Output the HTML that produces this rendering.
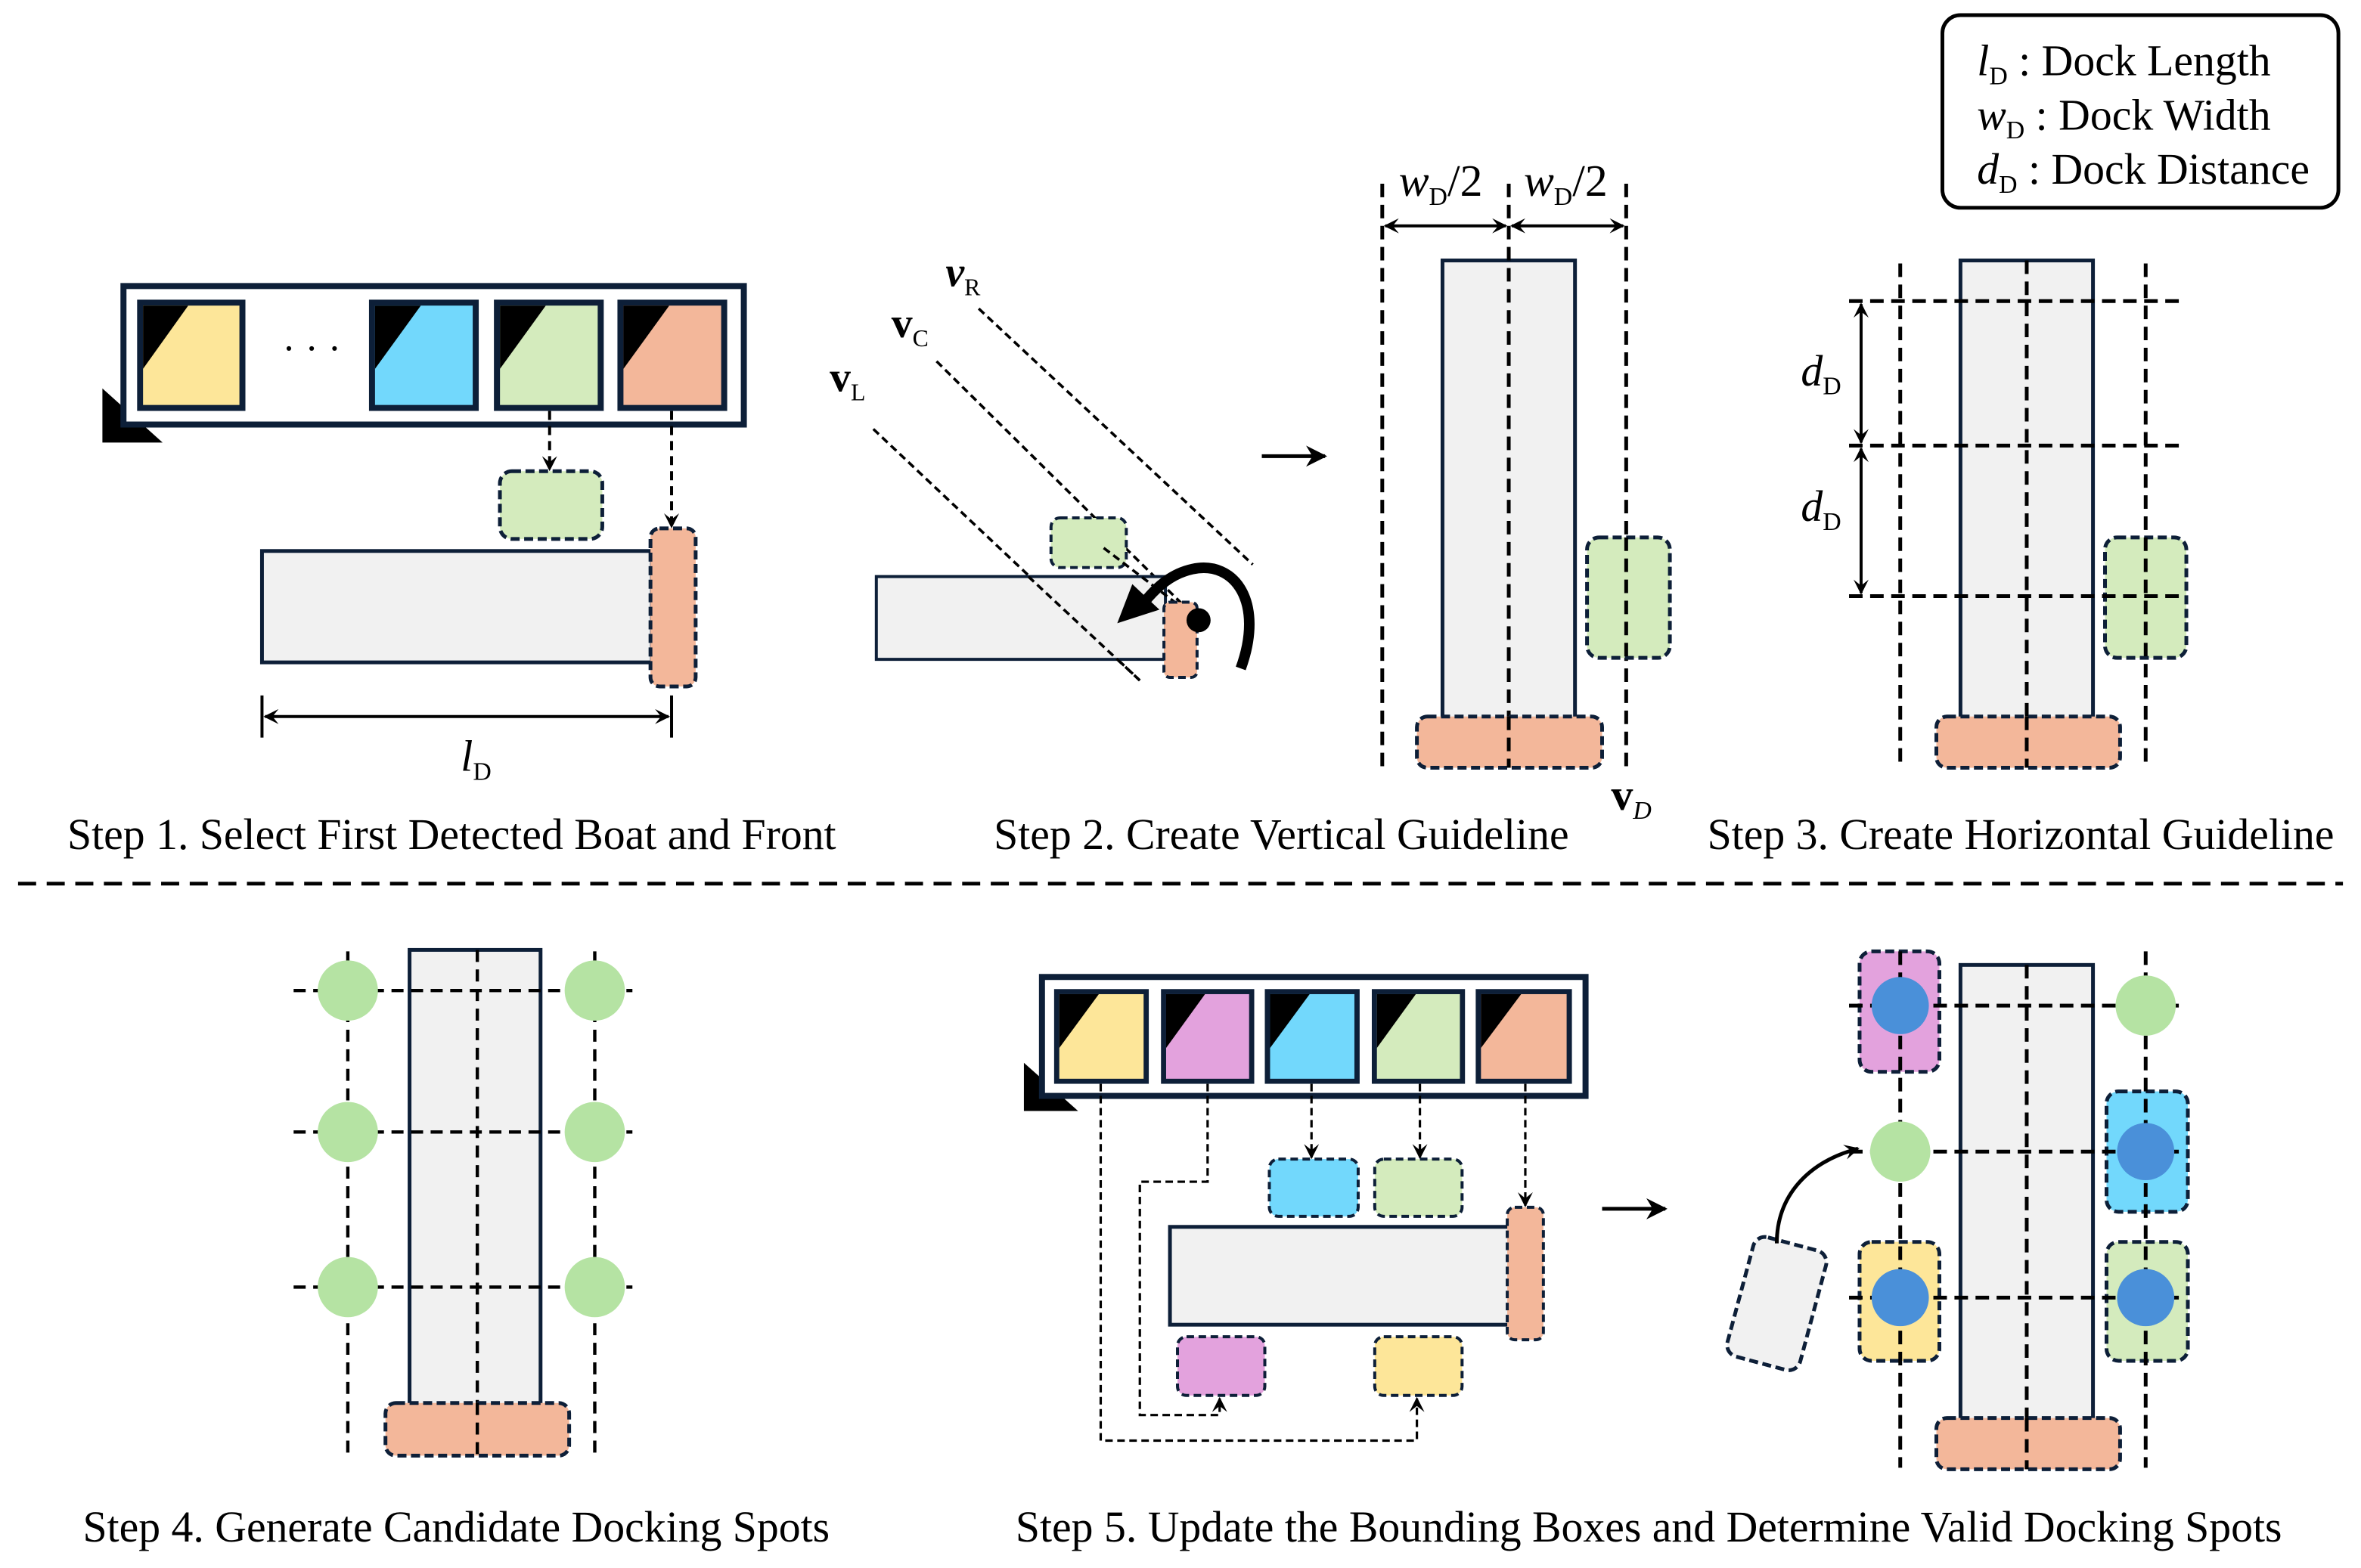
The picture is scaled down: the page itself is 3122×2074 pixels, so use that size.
<!DOCTYPE html>
<html><head><meta charset="utf-8"><style>
html,body{margin:0;padding:0;background:#fff;}
svg{display:block;font-family:"Liberation Serif",serif;}
</style></head><body>
<svg width="3122" height="2074" viewBox="0 0 1568 1041.6" xmlns="http://www.w3.org/2000/svg">
<defs>
<symbol id="ic" viewBox="0 0 72 74" preserveAspectRatio="none">
<rect x="0" y="0" width="72" height="74" fill="#0d1f38"/>
<rect x="4" y="4" width="64" height="66" fill="currentColor"/>
<polygon points="4,4 34,4 4,46" fill="#000"/>
</symbol>
<marker id="ah" viewBox="0 0 10 10" refX="9" refY="5" markerWidth="10" markerHeight="10" orient="auto-start-reverse" markerUnits="userSpaceOnUse">
<path d="M0,0 L10,5 L0,10 L4,5 Z" fill="#000"/>
</marker>
<marker id="ah2" viewBox="0 0 10 10" refX="9" refY="5" markerWidth="14" markerHeight="14" orient="auto-start-reverse" markerUnits="userSpaceOnUse">
<path d="M0,0 L10,5 L0,10 L3,5 Z" fill="#000"/>
</marker>
</defs>
<rect width="1568" height="1042" fill="#fff"/>

<!-- STEP 1 -->
<polygon points="68,258 68,294 108,294" fill="#000"/>
<rect x="82" y="190" width="412" height="92" fill="#fff" stroke="#0d1f38" stroke-width="4"/>
<use href="#ic" x="91" y="199" width="72" height="74" color="#fde699"/>
<use href="#ic" x="245" y="199" width="73" height="74" color="#72d8fc"/>
<use href="#ic" x="328" y="199" width="73" height="74" color="#d4ebbd"/>
<use href="#ic" x="410" y="199" width="73" height="74" color="#f3b79a"/>
<text x="207" y="240" font-size="26" text-anchor="middle">· · ·</text>
<g stroke="#000" stroke-width="2" stroke-dasharray="6,4" fill="none">
<line x1="365" y1="273" x2="365" y2="312" marker-end="url(#ah)"/>
<line x1="446" y1="273" x2="446" y2="350" marker-end="url(#ah)"/>
</g>
<rect x="332" y="313" width="68" height="45" rx="8" fill="#d4ebbd" stroke="#0d1f38" stroke-width="2.5" stroke-dasharray="6,3"/>
<rect x="174" y="366" width="259" height="74" fill="#f1f1f1" stroke="#0d1f38" stroke-width="2.5"/>
<rect x="432" y="351" width="30" height="105" rx="6" fill="#f3b79a" stroke="#0d1f38" stroke-width="2.5" stroke-dasharray="6,3"/>
<g stroke="#000" stroke-width="2">
<line x1="174" y1="462" x2="174" y2="490"/><line x1="446" y1="462" x2="446" y2="490"/>
<line x1="176" y1="476" x2="444" y2="476" marker-start="url(#ah)" marker-end="url(#ah)"/>
</g>
<text x="306" y="512" font-size="29" font-style="italic">l<tspan font-size="17" font-style="normal" dy="6">D</tspan></text>
<text x="300" y="564" font-size="29" text-anchor="middle">Step 1. Select First Detected Boat and Front</text>

<!-- STEP 2 left -->
<g stroke="#000" stroke-width="1.8" stroke-dasharray="5,3" fill="none">
<line x1="650" y1="205" x2="832" y2="375"/>
<line x1="622" y1="240" x2="796" y2="412"/>
<line x1="580" y1="285" x2="757" y2="452"/>
</g>
<text x="628" y="190" font-size="28" font-weight="bold" font-style="italic">v<tspan font-size="16" font-weight="normal" font-style="normal" dy="6">R</tspan></text>
<text x="592" y="224" font-size="28" font-weight="bold">v<tspan font-size="16" font-weight="normal" dy="6">C</tspan></text>
<text x="551" y="260" font-size="28" font-weight="bold">v<tspan font-size="16" font-weight="normal" dy="6">L</tspan></text>
<rect x="698" y="344" width="50" height="33" rx="6" fill="#d4ebbd" stroke="#0d1f38" stroke-width="2" stroke-dasharray="5,3"/>
<rect x="582" y="383" width="192" height="55" fill="#f1f1f1" stroke="#0d1f38" stroke-width="2"/>
<g stroke="#000" stroke-width="1.8" stroke-dasharray="5,3" fill="none">
<line x1="683" y1="383" x2="757" y2="452"/>
<line x1="733" y1="364" x2="796" y2="412"/>
</g>
<rect x="773" y="400" width="22" height="50" rx="4" fill="#f3b79a" stroke="#0d1f38" stroke-width="2" stroke-dasharray="5,3"/>
<circle cx="796" cy="412" r="8" fill="#000"/>
<path d="M824,444 C840,400 820,372 792,378 C778,381 768,390 760,400" fill="none" stroke="#000" stroke-width="7"/>
<polygon points="742,414 752,388 770,405" fill="#000"/>
<line x1="838" y1="303" x2="880" y2="303" stroke="#000" stroke-width="2.5" marker-end="url(#ah2)"/>

<!-- STEP 2 right -->
<g stroke="#000" stroke-width="2.5" stroke-dasharray="9,5" fill="none">
<line x1="918" y1="122" x2="918" y2="510"/>
<line x1="1080" y1="122" x2="1080" y2="510"/>
</g>
<rect x="958" y="173" width="88" height="305" fill="#f1f1f1" stroke="#0d1f38" stroke-width="2.5"/>
<line x1="1002" y1="122" x2="1002" y2="510" stroke="#000" stroke-width="2.5" stroke-dasharray="9,5"/>
<g stroke="#000" stroke-width="2">
<line x1="920" y1="150" x2="1000" y2="150" marker-start="url(#ah)" marker-end="url(#ah)"/>
<line x1="1004" y1="150" x2="1078" y2="150" marker-start="url(#ah)" marker-end="url(#ah)"/>
</g>
<text x="929" y="130" font-size="30" font-style="italic">w<tspan font-size="17" font-style="normal" dy="6">D</tspan><tspan dy="-6" font-style="normal">/2</tspan></text>
<text x="1012" y="130" font-size="30" font-style="italic">w<tspan font-size="17" font-style="normal" dy="6">D</tspan><tspan dy="-6" font-style="normal">/2</tspan></text>
<rect x="941" y="476" width="123" height="34" rx="7" fill="#f3b79a" stroke="#0d1f38" stroke-width="2.5" stroke-dasharray="6,3"/>
<line x1="1002" y1="476" x2="1002" y2="510" stroke="#000" stroke-width="2.5" stroke-dasharray="9,5"/>
<rect x="1054" y="357" width="55" height="80" rx="8" fill="#d4ebbd" stroke="#0d1f38" stroke-width="2.5" stroke-dasharray="6,3"/>
<line x1="1080" y1="357" x2="1080" y2="437" stroke="#000" stroke-width="2.5" stroke-dasharray="9,5"/>
<text x="1070" y="538" font-size="29" font-weight="bold">v<tspan font-size="17" font-weight="normal" font-style="italic" dy="6">D</tspan></text>
<text x="851" y="564" font-size="29" text-anchor="middle">Step 2. Create Vertical Guideline</text>

<!-- Legend -->
<rect x="1290" y="10" width="263" height="128" rx="12" fill="#fff" stroke="#000" stroke-width="2.5"/>
<text x="1313" y="50" font-size="29"><tspan font-style="italic">l</tspan><tspan font-size="17" dy="6">D</tspan><tspan dy="-6"> : Dock Length</tspan></text>
<text x="1313" y="86" font-size="29"><tspan font-style="italic">w</tspan><tspan font-size="17" dy="6">D</tspan><tspan dy="-6"> : Dock Width</tspan></text>
<text x="1313" y="122" font-size="29"><tspan font-style="italic">d</tspan><tspan font-size="17" dy="6">D</tspan><tspan dy="-6"> : Dock Distance</tspan></text>

<!-- STEP 3 -->
<rect x="1302" y="173" width="88" height="305" fill="#f1f1f1" stroke="#0d1f38" stroke-width="2.5"/>
<g stroke="#000" stroke-width="2.5" stroke-dasharray="9,5" fill="none">
<line x1="1262" y1="175" x2="1262" y2="510"/>
<line x1="1425" y1="175" x2="1425" y2="510"/>
<line x1="1346" y1="173" x2="1346" y2="510"/>
<line x1="1228" y1="200" x2="1452" y2="200"/>
<line x1="1228" y1="296" x2="1452" y2="296"/>
</g>
<g stroke="#000" stroke-width="2">
<line x1="1236" y1="202" x2="1236" y2="294" marker-start="url(#ah)" marker-end="url(#ah)"/>
<line x1="1236" y1="298" x2="1236" y2="394" marker-start="url(#ah)" marker-end="url(#ah)"/>
</g>
<text x="1196" y="256" font-size="29" font-style="italic">d<tspan font-size="17" font-style="normal" dy="6">D</tspan></text>
<text x="1196" y="346" font-size="29" font-style="italic">d<tspan font-size="17" font-style="normal" dy="6">D</tspan></text>
<rect x="1398" y="357" width="54" height="80" rx="8" fill="#d4ebbd" stroke="#0d1f38" stroke-width="2.5" stroke-dasharray="6,3"/>
<rect x="1286" y="476" width="122" height="34" rx="7" fill="#f3b79a" stroke="#0d1f38" stroke-width="2.5" stroke-dasharray="6,3"/>
<g stroke="#000" stroke-width="2.5" stroke-dasharray="9,5" fill="none">
<line x1="1228" y1="396" x2="1452" y2="396"/>
<line x1="1425" y1="357" x2="1425" y2="437"/>
<line x1="1346" y1="476" x2="1346" y2="510"/>
</g>
<text x="1342" y="564" font-size="29" text-anchor="middle">Step 3. Create Horizontal Guideline</text>

<!-- separator -->
<line x1="12" y1="587" x2="1556" y2="587" stroke="#000" stroke-width="2.5" stroke-dasharray="12,7"/>

<!-- STEP 4 -->
<rect x="272" y="631" width="87" height="334" fill="#f1f1f1" stroke="#0d1f38" stroke-width="2.5"/>
<g stroke="#000" stroke-width="2.2" stroke-dasharray="8,5" fill="none">
<line x1="317" y1="631" x2="317" y2="965"/>
<line x1="231" y1="632" x2="231" y2="965"/>
<line x1="395" y1="632" x2="395" y2="965"/>
<line x1="195" y1="658" x2="420" y2="658"/>
<line x1="195" y1="752" x2="420" y2="752"/>
<line x1="195" y1="855" x2="420" y2="855"/>
</g>
<g fill="#b5e3a3">
<circle cx="231" cy="658" r="20"/><circle cx="395" cy="658" r="20"/>
<circle cx="231" cy="752" r="20"/><circle cx="395" cy="752" r="20"/>
<circle cx="231" cy="855" r="20"/><circle cx="395" cy="855" r="20"/>
</g>
<rect x="256" y="932" width="122" height="35" rx="7" fill="#f3b79a" stroke="#0d1f38" stroke-width="2.5" stroke-dasharray="6,3"/>
<line x1="317" y1="932" x2="317" y2="967" stroke="#000" stroke-width="2.2" stroke-dasharray="8,5"/>
<text x="303" y="1024" font-size="29" text-anchor="middle">Step 4. Generate Candidate Docking Spots</text>

<!-- STEP 5 left -->
<polygon points="680,706 680,738 716,738" fill="#000"/>
<rect x="692" y="649" width="361" height="79" fill="#fff" stroke="#0d1f38" stroke-width="4"/>
<use href="#ic" x="700" y="657" width="63" height="63" color="#fde699"/>
<use href="#ic" x="771" y="657" width="62" height="63" color="#e3a2dd"/>
<use href="#ic" x="840" y="657" width="63" height="63" color="#72d8fc"/>
<use href="#ic" x="911" y="657" width="62" height="63" color="#d4ebbd"/>
<use href="#ic" x="980" y="657" width="64" height="63" color="#f3b79a"/>
<g stroke="#000" stroke-width="1.6" stroke-dasharray="5,3" fill="none">
<line x1="871" y1="720" x2="871" y2="769" marker-end="url(#ah)"/>
<line x1="943" y1="720" x2="943" y2="769" marker-end="url(#ah)"/>
<line x1="1013" y1="720" x2="1013" y2="801" marker-end="url(#ah)"/>
<polyline points="802,720 802,785 757,785 757,940 810,940 810,929" marker-end="url(#ah)"/>
<polyline points="731,720 731,957 941,957 941,929" marker-end="url(#ah)"/>
</g>
<rect x="843" y="770" width="59" height="38" rx="6" fill="#72d8fc" stroke="#0d1f38" stroke-width="2" stroke-dasharray="5,3"/>
<rect x="913" y="770" width="58" height="38" rx="6" fill="#d4ebbd" stroke="#0d1f38" stroke-width="2" stroke-dasharray="5,3"/>
<rect x="777" y="815" width="226" height="65" fill="#f1f1f1" stroke="#0d1f38" stroke-width="2.5"/>
<rect x="1001" y="802" width="24" height="88" rx="5" fill="#f3b79a" stroke="#0d1f38" stroke-width="2" stroke-dasharray="5,3"/>
<rect x="782" y="888" width="58" height="39" rx="6" fill="#e3a2dd" stroke="#0d1f38" stroke-width="2" stroke-dasharray="5,3"/>
<rect x="913" y="888" width="58" height="39" rx="6" fill="#fde699" stroke="#0d1f38" stroke-width="2" stroke-dasharray="5,3"/>
<line x1="1064" y1="803" x2="1106" y2="803" stroke="#000" stroke-width="2.5" marker-end="url(#ah2)"/>

<!-- STEP 5 right -->
<rect x="1302" y="641" width="88" height="304" fill="#f1f1f1" stroke="#0d1f38" stroke-width="2.5"/>
<rect x="1235" y="632" width="53" height="80" rx="8" fill="#e3a2dd" stroke="#0d1f38" stroke-width="2.5" stroke-dasharray="6,3"/>
<rect x="1399" y="725" width="54" height="80" rx="8" fill="#72d8fc" stroke="#0d1f38" stroke-width="2.5" stroke-dasharray="6,3"/>
<rect x="1235" y="825" width="53" height="79" rx="8" fill="#fde699" stroke="#0d1f38" stroke-width="2.5" stroke-dasharray="6,3"/>
<rect x="1399" y="825" width="54" height="79" rx="8" fill="#d4ebbd" stroke="#0d1f38" stroke-width="2.5" stroke-dasharray="6,3"/>
<g stroke="#000" stroke-width="2.5" stroke-dasharray="9,5" fill="none">
<line x1="1346" y1="641" x2="1346" y2="975"/>
<line x1="1262" y1="632" x2="1262" y2="975"/>
<line x1="1425" y1="632" x2="1425" y2="975"/>
<line x1="1228" y1="668" x2="1452" y2="668"/>
<line x1="1228" y1="765" x2="1452" y2="765"/>
<line x1="1228" y1="862" x2="1452" y2="862"/>
</g>
<circle cx="1262" cy="668" r="19" fill="#4a90d9"/>
<circle cx="1425" cy="668" r="20" fill="#b5e3a3"/>
<circle cx="1262" cy="765" r="20" fill="#b5e3a3"/>
<circle cx="1425" cy="765" r="19" fill="#4a90d9"/>
<circle cx="1262" cy="862" r="19" fill="#4a90d9"/>
<circle cx="1425" cy="862" r="19" fill="#4a90d9"/>
<rect x="1286" y="942" width="122" height="34" rx="7" fill="#f3b79a" stroke="#0d1f38" stroke-width="2.5" stroke-dasharray="6,3"/>
<line x1="1346" y1="942" x2="1346" y2="976" stroke="#000" stroke-width="2.5" stroke-dasharray="9,5"/>
<rect x="1155" y="825" width="50" height="82" rx="8" fill="#f1f1f1" stroke="#0d1f38" stroke-width="2.5" stroke-dasharray="6,3" transform="rotate(15 1180 866)"/>
<path d="M1180,826 C1180,795 1200,772 1234,763" fill="none" stroke="#000" stroke-width="2.5" marker-end="url(#ah)"/>
<text x="1095" y="1024" font-size="29" text-anchor="middle">Step 5. Update the Bounding Boxes and Determine Valid Docking Spots</text>
</svg>
</body></html>
